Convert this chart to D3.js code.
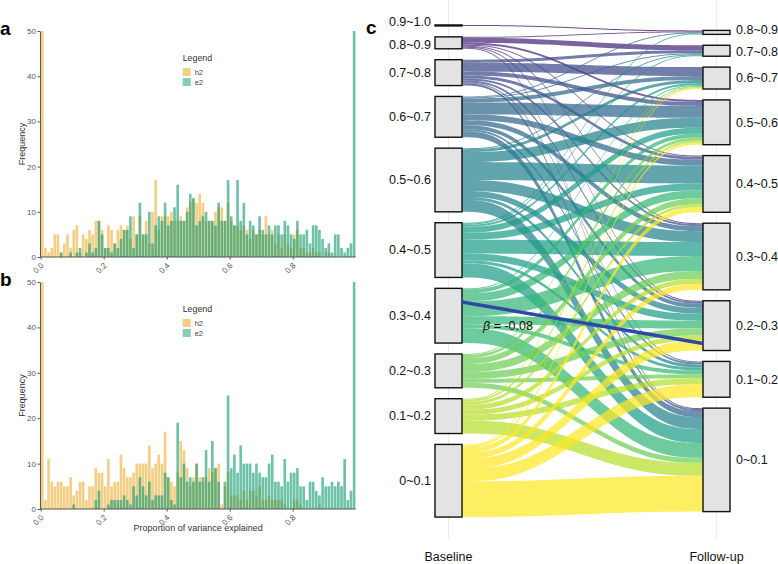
<!DOCTYPE html>
<html>
<head>
<meta charset="utf-8">
<script src="https://cdn.jsdelivr.net/npm/d3@7"></script>
<style>
  body { margin: 0; background: #fff; }
  svg { display: block; font-family: "Liberation Sans", Arial, sans-serif; }
</style>
</head>
<body>
<svg id="chart" width="778" height="564"></svg>
<script>
// histogram bins: 0.00, 0.01, ... 0.99
const BIN_STARTS = d3.range(100).map(i => i / 100)
const X_TICKS = [0, 0.2, 0.4, 0.6, 0.8]
const Y_TICKS = [0, 10, 20, 30, 40, 50]
const SERIES = ['h2', 'e2']

// panel a
const A_H2 = [
  50, 2, 1, 2, 5, 5, 1, 3, 5, 2,
  6, 7, 1, 5, 4, 6, 5, 8, 8, 6,
  2, 7, 6, 3, 6, 7, 6, 7, 4, 9,
  5, 9, 5, 8, 3, 10, 17, 6, 9, 9,
  9, 10, 8, 8, 9, 8, 11, 12, 13, 12,
  14, 12, 8, 8, 8, 10, 11, 11, 8, 12,
  8, 7, 7, 6, 7, 6, 4, 6, 5, 6,
  5, 9, 5, 6, 3, 5, 2, 5, 3, 2,
  5, 6, 2, 2, 1, 1, 2, 1, 1, 0,
  1, 1, 0, 0, 0, 0, 0, 0, 0, 0]
const A_E2 = [
  0, 0, 0, 0, 0, 0, 1, 0, 0, 1,
  0, 1, 2, 0, 1, 3, 1, 2, 8, 5,
  2, 2, 1, 3, 2, 4, 6, 6, 9, 2,
  5, 12, 5, 5, 10, 3, 7, 9, 8, 12,
  7, 8, 11, 16, 8, 8, 10, 14, 13, 7,
  8, 9, 10, 8, 8, 7, 12, 8, 8, 17,
  9, 7, 17, 8, 12, 5, 8, 7, 5, 9,
  6, 5, 7, 5, 7, 7, 5, 8, 7, 5,
  4, 8, 5, 5, 6, 3, 7, 7, 6, 4,
  2, 3, 1, 5, 5, 2, 1, 2, 3, 50]

// panel b
const B_H2 = [
  50, 2, 11, 6, 5, 6, 6, 5, 5, 7,
  3, 4, 6, 6, 2, 5, 5, 9, 8, 8,
  5, 11, 5, 6, 6, 12, 9, 7, 7, 8,
  10, 10, 10, 10, 14, 9, 10, 12, 10, 17,
  7, 6, 5, 8, 15, 13, 9, 5, 7, 10,
  7, 6, 7, 9, 8, 9, 10, 1, 5, 8,
  3, 3, 3, 2, 4, 2, 4, 4, 3, 5,
  2, 2, 3, 2, 2, 2, 2, 1, 0, 0,
  2, 2, 1, 0, 0, 0, 0, 0, 1, 0,
  0, 0, 0, 0, 0, 0, 0, 0, 0, 0]
const B_E2 = [
  0, 0, 0, 0, 0, 0, 0, 0, 0, 0,
  1, 0, 0, 0, 0, 0, 0, 2, 4, 0,
  0, 1, 2, 2, 2, 2, 3, 2, 1, 5,
  3, 7, 5, 3, 6, 2, 3, 3, 3, 8,
  7, 2, 1, 19, 7, 10, 6, 7, 6, 10,
  6, 7, 13, 6, 15, 9, 6, 0, 6, 25,
  9, 12, 8, 14, 10, 10, 10, 8, 10, 8,
  7, 7, 10, 12, 6, 6, 5, 11, 6, 8,
  8, 9, 5, 5, 2, 6, 6, 4, 3, 7,
  5, 5, 6, 5, 6, 5, 11, 2, 4, 50]

// panel c: alluvial, categories listed top to bottom
const BASELINE_LEVELS = ['0.9~1.0', '0.8~0.9', '0.7~0.8', '0.6~0.7', '0.5~0.6', '0.4~0.5', '0.3~0.4', '0.2~0.3', '0.1~0.2', '0~0.1']
const FOLLOWUP_LEVELS = ['0.8~0.9', '0.7~0.8', '0.6~0.7', '0.5~0.6', '0.4~0.5', '0.3~0.4', '0.2~0.3', '0.1~0.2', '0~0.1']
const AXES = ['Baseline', 'Follow-up']
// rows: baseline level, columns: follow-up level (same order as above)
const TRANSITIONS = [
  [1, 0, 0, 0, 0, 0, 0, 0, 0],
  [1, 5, 0, 2, 1, 1, 1, 0, 1],
  [0, 3, 9, 4, 3, 2, 2, 1, 2],
  [1, 1, 4, 12, 6, 5, 4, 2, 6],
  [0, 1, 3, 10, 18, 11, 6, 3, 12],
  [1, 1, 2, 6, 7, 14, 7, 3, 14],
  [0, 0, 1, 4, 8, 15, 8, 4, 15],
  [0, 0, 1, 3, 6, 8, 7, 4, 5],
  [0, 0, 1, 2, 3, 5, 5, 6, 13],
  [0, 0, 1, 2, 5, 6, 10, 13, 36]
]
const BETA_TEXT = '= -0.08'
// fitted line: value at baseline and at follow-up
const TREND = [0.375, 0.214]

const svg = d3.select('#chart')
svg.append('rect').attr('width', 778).attr('height', 564).attr('fill', '#fff')

const histColors = { h2: '#E8A317', e2: '#0E9A6E' }

function drawHistogram(h2, e2, top, bottom, letter, showTitle) {
    const x = d3.scaleLinear().domain([0, 1]).range([40.67, 355.67])
    const y = d3.scaleLinear().domain([0, 50]).range([bottom, top])
    const g = svg.append('g')

    const series = { h2: h2, e2: e2 }
    SERIES.forEach(key => {
        g.append('g').selectAll('rect')
            .data(BIN_STARTS)
            .enter().append('rect')
            .attr('x', d => x(d) + 0.25)
            .attr('width', x(0.01) - x(0) - 0.5)
            .attr('y', (d, i) => y(series[key][i]))
            .attr('height', (d, i) => y(0) - y(series[key][i]))
            .attr('fill', histColors[key])
            .attr('fill-opacity', key === 'h2' ? 0.52 : 0.6)
    })

    const yAxis = g.append('g')
        .attr('transform', `translate(${x(0) - 0.7},0)`)
        .call(d3.axisLeft(y).tickValues(Y_TICKS).tickSize(2.5).tickSizeOuter(0).tickFormat(d3.format('d')))
    const xAxis = g.append('g')
        .attr('transform', `translate(0,${bottom})`)
        .call(d3.axisBottom(x).tickValues(X_TICKS).tickSize(2.5).tickSizeOuter(0).tickFormat(d3.format('.1f')))
    xAxis.select('.domain').attr('d', `M${x(0) - 0.7},0H${x(1)}`)
    ;[yAxis, xAxis].forEach(ax => {
        ax.select('.domain').attr('stroke', '#555')
        ax.selectAll('.tick line').attr('stroke', '#555')
        ax.selectAll('.tick text').attr('fill', '#555').style('font-size', '8px')
            .style('font-family', '"Liberation Sans", Arial, sans-serif')
    })
    yAxis.selectAll('.tick text').attr('x', -4)
    xAxis.selectAll('.tick text')
        .attr('text-anchor', 'end')
        .attr('dy', 0)
        .attr('transform', 'translate(3,9) rotate(-45)')
        .attr('y', 0)

    g.append('text')
        .attr('transform', `translate(25,${(top + bottom) / 2}) rotate(-90)`)
        .attr('text-anchor', 'middle')
        .style('font-size', '9px')
        .attr('fill', '#333')
        .text('Frequency')

    if (showTitle) {
        g.append('text')
            .attr('x', (x(0) + x(1)) / 2)
            .attr('y', bottom + 22)
            .attr('text-anchor', 'middle')
            .style('font-size', '9px')
            .attr('fill', '#333')
            .text('Proportion of variance explained')
    }

    // legend
    const legend = g.append('g').attr('transform', `translate(182.7,${top + 30})`)
    legend.append('text').attr('x', 0).attr('y', 0)
        .style('font-size', '8.8px').attr('fill', '#333').text('Legend')
    const items = legend.selectAll('.item')
        .data(SERIES)
        .enter().append('g')
        .attr('transform', (d, i) => `translate(0,${7 + i * 10})`)
    items.append('rect')
        .attr('width', 8).attr('height', 8)
        .attr('fill', d => histColors[d])
        .attr('fill-opacity', d => d === 'h2' ? 0.52 : 0.5)
    items.append('text')
        .attr('x', 12).attr('y', 4).attr('dy', '.35em')
        .style('font-size', '7.5px').attr('fill', '#444')
        .text(d => d)

    svg.append('text')
        .attr('x', 0).attr('y', top + 4)
        .style('font-size', '19px').style('font-weight', 'bold')
        .text(letter)
}

drawHistogram(A_H2, A_E2, 31, 257, 'a', false)
drawHistogram(B_H2, B_E2, 282, 509, 'b', true)

// ---------- panel c ----------
const axisX = d3.scalePoint().domain(AXES).range([448.5, 716.5])
const nodeW = 27
const gap = 10.9
const centerY = 271
const total = d3.sum(TRANSITIONS.flat())
const unit = d3.scaleLinear().domain([0, total]).range([0, 394])
const flowColor = d3.scaleSequential(d3.interpolateViridis).domain([0, BASELINE_LEVELS.length - 1])

function layoutColumn(levels, counts, axisName) {
    const H = d3.sum(counts, unit) + gap * (levels.length - 1)
    let y = centerY - H / 2
    return levels.map((name, i) => {
        const node = { name, i, x0: axisX(axisName) - nodeW / 2, x1: axisX(axisName) + nodeW / 2, y0: y, y1: y + unit(counts[i]) }
        y = node.y1 + gap
        return node
    })
}

const baseCounts = TRANSITIONS.map(row => d3.sum(row))
const followCounts = FOLLOWUP_LEVELS.map((d, j) => d3.sum(TRANSITIONS, row => row[j]))
const leftNodes = layoutColumn(BASELINE_LEVELS, baseCounts, AXES[0])
const rightNodes = layoutColumn(FOLLOWUP_LEVELS, followCounts, AXES[1])

// stack the flows inside each node
const links = []
const rightOffset = rightNodes.map(n => n.y0)
leftNodes.forEach((src, i) => {
    let sy = src.y0
    TRANSITIONS[i].forEach((v, j) => {
        if (!v) return
        links.push({ source: i, target: j, value: v, sy0: sy, sy1: sy + unit(v) })
        sy += unit(v)
    })
})
// incoming order: by source position
links.forEach(l => {
    l.ty0 = rightOffset[l.target]
    l.ty1 = l.ty0 + unit(l.value)
    rightOffset[l.target] = l.ty1
})

const gc = svg.append('g')
gc.selectAll('.grid')
    .data(AXES)
    .enter().append('line')
    .attr('x1', d => axisX(d)).attr('x2', d => axisX(d))
    .attr('y1', 0).attr('y2', 540)
    .attr('stroke', '#ebebeb').attr('stroke-width', 1)

const fx0 = axisX(AXES[0]) + nodeW / 2
const fx1 = axisX(AXES[1]) - nodeW / 2
const ease = t => t * t * t * (10 - 15 * t + 6 * t * t)
const ts = d3.range(0, 1.0001, 1 / 48)
const ribbon = d3.area().x(d => d.x).y0(d => d.a).y1(d => d.b)

gc.selectAll('.flow')
    .data(links)
    .enter().append('path')
    .attr('class', 'flow')
    .attr('d', l => ribbon(ts.map(t => ({
        x: fx0 + (fx1 - fx0) * t,
        a: l.sy0 + (l.ty0 - l.sy0) * ease(t),
        b: l.sy1 + (l.ty1 - l.sy1) * ease(t)
    }))))
    .attr('fill', l => flowColor(l.source))
    .attr('fill-opacity', 0.72)

function drawNodes(nodes) {
    gc.append('g').selectAll('rect')
        .data(nodes)
        .enter().append('rect')
        .attr('x', d => d.x0).attr('y', d => d.y0)
        .attr('width', nodeW).attr('height', d => d.y1 - d.y0)
        .attr('fill', '#e3e3e3').attr('stroke', '#111').attr('stroke-width', 1.4)
}
drawNodes(leftNodes)
drawNodes(rightNodes)

function repel(nodes, minGap) {
    const items = nodes.map(n => ({ name: n.name, ly: (n.y0 + n.y1) / 2, n }))
    for (let k = 0; k < 30; k++) {
        for (let i = 0; i < items.length - 1; i++) {
            const d = items[i + 1].ly - items[i].ly
            if (d < minGap) {
                items[i].ly -= (minGap - d) * 0.7
                items[i + 1].ly += (minGap - d) * 0.3
            }
        }
    }
    return items
}

gc.append('g').selectAll('text')
    .data(repel(leftNodes, 22.5))
    .enter().append('text')
    .attr('x', d => d.n.x0 - 4).attr('y', d => d.ly)
    .attr('dy', '.35em').attr('text-anchor', 'end')
    .style('font-size', '12.5px').attr('fill', '#111')
    .text(d => d.name)

gc.append('g').selectAll('text')
    .data(repel(rightNodes, 22.5))
    .enter().append('text')
    .attr('x', d => d.n.x1 + 6).attr('y', d => d.ly)
    .attr('dy', '.35em').attr('text-anchor', 'start')
    .style('font-size', '12.5px').attr('fill', '#111')
    .text(d => d.name)

// trend line, values placed inside their category box
function valueY(nodes, levels, v) {
    const idx = levels.findIndex(s => {
        const [lo, hi] = s.split('~').map(Number)
        return v >= lo && v < hi
    })
    const n = nodes[idx]
    const lo = +levels[idx].split('~')[0]
    return n.y1 - (v - lo) / 0.1 * (n.y1 - n.y0)
}
const trendY0 = valueY(leftNodes, BASELINE_LEVELS, TREND[0])
const trendY1 = valueY(rightNodes, FOLLOWUP_LEVELS, TREND[1])
gc.append('line')
    .attr('x1', fx0).attr('y1', trendY0)
    .attr('x2', fx1).attr('y2', trendY1)
    .attr('stroke', '#2d49a6').attr('stroke-width', 3.5)

const beta = gc.append('text')
    .attr('x', fx0 + 21).attr('y', trendY0 + 28)
    .style('font-size', '12.5px').attr('fill', '#111')
beta.append('tspan').style('font-style', 'italic').text('β')
beta.append('tspan').text(' ' + BETA_TEXT)

gc.append('g').selectAll('text')
    .data(AXES)
    .enter().append('text')
    .attr('x', d => axisX(d)).attr('y', 561)
    .attr('text-anchor', 'middle')
    .style('font-size', '12.5px').attr('fill', '#111')
    .text(d => d)

svg.append('text')
    .attr('x', 366).attr('y', 34)
    .style('font-size', '19px').style('font-weight', 'bold')
    .text('c')
</script>
</body>
</html>
